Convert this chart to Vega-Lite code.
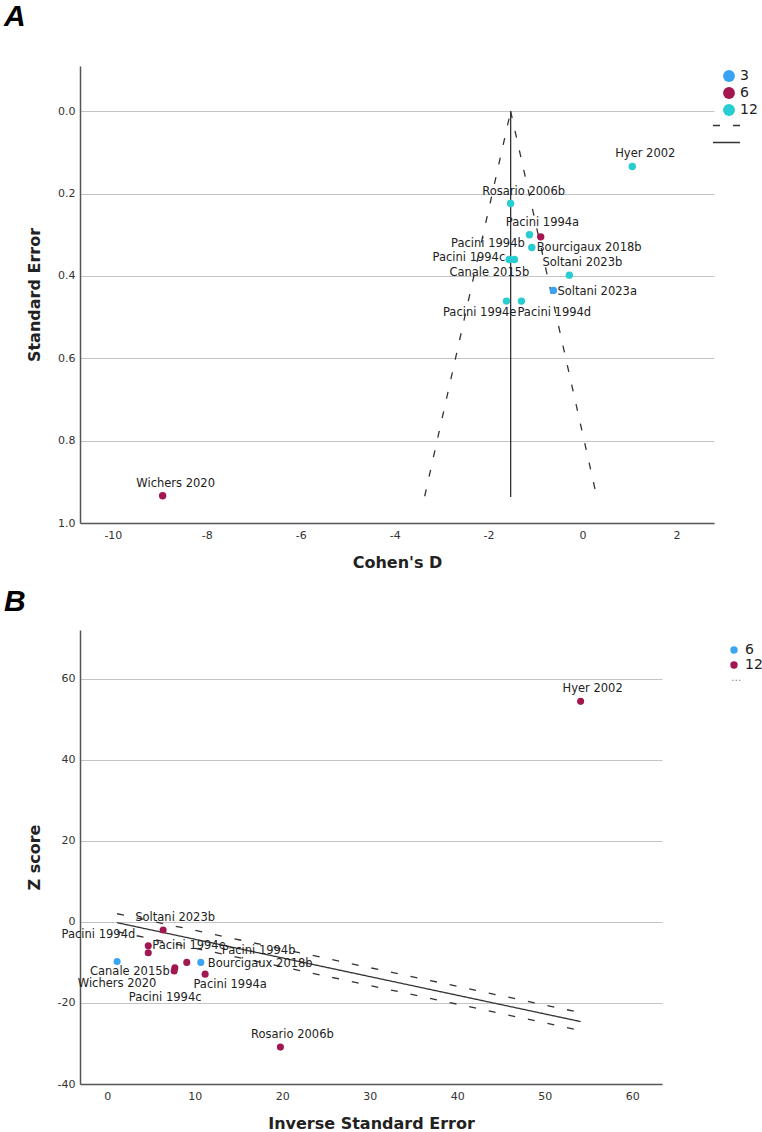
{
  "$schema": "https://vega.github.io/schema/vega-lite/v6.json",
  "background": "white",
  "padding": {"left": 4, "top": 2, "right": 0, "bottom": 0},
  "spacing": 17,
  "config": {
    "font": "DejaVu Sans",
    "view": {"stroke": null},
    "axis": {
      "labelFont": "DejaVu Sans", "labelFontSize": 11, "labelColor": "#333",
      "titleFont": "DejaVu Sans", "titleFontWeight": "bold", "titleFontSize": 16, "titleColor": "#222",
      "domainColor": "#555", "domainWidth": 1.5, "ticks": false,
      "gridColor": "#c4c4c4", "gridWidth": 1.2,
      "labelExpr": "replace(datum.label, '\u2212', '-')"
    },
    "legend": {"labelFont": "DejaVu Sans", "labelFontSize": 14, "labelColor": "#222", "padding": 0}
  },
  "resolve": {
    "scale": {"color": "independent", "strokeDash": "independent"},
    "legend": {"color": "independent", "strokeDash": "independent"}
  },
  "datasets": {
    "ptsA": [
      {"study": "Hyer 2002", "d": 1.06, "se": 0.134, "k": "12"},
      {"study": "Rosario 2006b", "d": -1.53, "se": 0.224, "k": "12"},
      {"study": "Pacini 1994a", "d": -1.13, "se": 0.300, "k": "12"},
      {"study": "Bourcigaux 2018b", "d": -0.89, "se": 0.305, "k": "6"},
      {"study": "Pacini 1994b", "d": -1.08, "se": 0.331, "k": "12"},
      {"study": "Pacini 1994c", "d": -1.56, "se": 0.360, "k": "12"},
      {"study": "Canale 2015b", "d": -1.45, "se": 0.360, "k": "12"},
      {"study": "Soltani 2023b", "d": -0.28, "se": 0.398, "k": "12"},
      {"study": "Soltani 2023a", "d": -0.62, "se": 0.435, "k": "3"},
      {"study": "Pacini 1994e", "d": -1.62, "se": 0.461, "k": "12"},
      {"study": "Pacini 1994d", "d": -1.30, "se": 0.461, "k": "12"},
      {"study": "Wichers 2020", "d": -8.94, "se": 0.934, "k": "6"}
    ],
    "linesA": [
      {"line": "mid", "style": "solid", "d": -1.53, "se": 0},
      {"line": "mid", "style": "solid", "d": -1.53, "se": 0.937},
      {"line": "lo", "style": "dash", "d": -1.53, "se": 0},
      {"line": "lo", "style": "dash", "d": -3.36, "se": 0.935},
      {"line": "hi", "style": "dash", "d": -1.53, "se": 0},
      {"line": "hi", "style": "dash", "d": 0.30, "se": 0.935}
    ],
    "ptsB": [
      {"study": "Soltani 2023b", "ise": 6.4, "z": -2.0, "k": "12"},
      {"study": "Pacini 1994d", "ise": 4.7, "z": -5.9, "k": "12"},
      {"study": "Pacini 1994e", "ise": 4.7, "z": -7.6, "k": "12"},
      {"study": "Wichers 2020", "ise": 1.14, "z": -9.8, "k": "6"},
      {"study": "Canale 2015b", "ise": 7.74, "z": -11.3, "k": "12"},
      {"study": "Pacini 1994c", "ise": 7.66, "z": -12.1, "k": "12"},
      {"study": "Pacini 1994b", "ise": 9.1, "z": -10.0, "k": "12"},
      {"study": "Bourcigaux 2018b", "ise": 10.7, "z": -10.0, "k": "6"},
      {"study": "Pacini 1994a", "ise": 11.2, "z": -12.9, "k": "12"},
      {"study": "Rosario 2006b", "ise": 19.8, "z": -30.9, "k": "12"},
      {"study": "Hyer 2002", "ise": 54.1, "z": 54.4, "k": "12"}
    ],
    "linesB": [
      {"line": "fit", "style": "solid", "ise": 1.14, "z": -0.2},
      {"line": "fit", "style": "solid", "ise": 54.1, "z": -24.6},
      {"line": "up", "style": "dash", "ise": 1.14, "z": 2.0},
      {"line": "up", "style": "dash", "ise": 54.1, "z": -22.4},
      {"line": "lo", "style": "dash", "ise": 1.14, "z": -2.4},
      {"line": "lo", "style": "dash", "ise": 54.1, "z": -26.8}
    ]
  },
  "vconcat": [
    {
      "width": 634,
      "height": 457,
      "title": {"text": "A", "anchor": "start", "frame": "group", "dx": -76, "offset": 10, "baseline": "alphabetic", "fontSize": 30, "font": "Liberation Sans", "fontStyle": "italic", "fontWeight": "bold", "color": "#000"},
      "layer": [
        {
          "data": {"name": "linesA"},
          "mark": {"type": "line", "color": "#333", "strokeWidth": 1.3},
          "encoding": {
            "x": {"field": "d", "type": "quantitative", "scale": {"domain": [-10.7, 2.8], "nice": false, "zero": false},
                  "axis": {"title": "Cohen's D", "values": [-10, -8, -6, -4, -2, 0, 2], "grid": false, "labelPadding": 6, "titlePadding": 14}},
            "y": {"field": "se", "type": "quantitative", "scale": {"domain": [-0.11, 1.0], "reverse": true, "nice": false, "zero": false},
                  "axis": {"title": "Standard Error", "values": [0, 0.2, 0.4, 0.6, 0.8, 1.0], "format": ".1f", "grid": true, "labelPadding": 5, "titlePadding": 15}},
            "detail": {"field": "line"},
            "strokeDash": {"field": "style", "type": "nominal", "scale": {"domain": ["dash", "solid"], "range": [[7, 13], [1, 0]]},
                           "legend": {"title": null, "orient": "none", "legendX": 632, "legendY": 51, "symbolType": "stroke", "symbolSize": 729, "symbolStrokeColor": "#333", "symbolStrokeWidth": 1.3, "labelExpr": "''", "clipHeight": 17, "rowPadding": 0}}
          }
        },
        {
          "data": {"name": "ptsA"},
          "mark": {"type": "circle", "size": 55, "opacity": 1},
          "encoding": {
            "x": {"field": "d", "type": "quantitative"},
            "y": {"field": "se", "type": "quantitative"},
            "color": {"field": "k", "type": "nominal", "scale": {"domain": ["3", "6", "12"], "range": ["#3aa2f2", "#a3164f", "#27cdd0"]},
                      "legend": {"title": null, "orient": "none", "legendX": 642, "legendY": 3, "symbolType": "circle", "symbolSize": 140, "symbolStrokeWidth": 0, "rowPadding": 3}}
          }
        },
        {
          "data": {"name": "ptsA"},
          "transform": [{"filter": {"field": "study", "oneOf": ["Hyer 2002", "Rosario 2006b", "Pacini 1994a", "Soltani 2023b", "Wichers 2020"]}}],
          "mark": {"type": "text", "align": "center", "baseline": "middle", "dx": 13, "dy": -12, "fontSize": 11.5, "color": "#222"},
          "encoding": {"x": {"field": "d", "type": "quantitative"}, "y": {"field": "se", "type": "quantitative"}, "text": {"field": "study"}}
        },
        {
          "data": {"name": "ptsA"},
          "transform": [{"filter": {"field": "study", "oneOf": ["Soltani 2023a"]}}],
          "mark": {"type": "text", "align": "left", "baseline": "middle", "dx": 4, "dy": 2, "fontSize": 11.5, "color": "#222"},
          "encoding": {"x": {"field": "d", "type": "quantitative"}, "y": {"field": "se", "type": "quantitative"}, "text": {"field": "study"}}
        },
        {
          "data": {"name": "ptsA"},
          "transform": [{"filter": {"field": "study", "oneOf": ["Bourcigaux 2018b"]}}],
          "mark": {"type": "text", "align": "left", "baseline": "middle", "dx": -4, "dy": 11, "fontSize": 11.5, "color": "#222"},
          "encoding": {"x": {"field": "d", "type": "quantitative"}, "y": {"field": "se", "type": "quantitative"}, "text": {"field": "study"}}
        },
        {
          "data": {"name": "ptsA"},
          "transform": [{"filter": {"field": "study", "oneOf": ["Pacini 1994b"]}}],
          "mark": {"type": "text", "align": "right", "baseline": "middle", "dx": -7, "dy": -4, "fontSize": 11.5, "color": "#222"},
          "encoding": {"x": {"field": "d", "type": "quantitative"}, "y": {"field": "se", "type": "quantitative"}, "text": {"field": "study"}}
        },
        {
          "data": {"name": "ptsA"},
          "transform": [{"filter": {"field": "study", "oneOf": ["Pacini 1994c"]}}],
          "mark": {"type": "text", "align": "right", "baseline": "middle", "dx": -4, "dy": -2, "fontSize": 11.5, "color": "#222"},
          "encoding": {"x": {"field": "d", "type": "quantitative"}, "y": {"field": "se", "type": "quantitative"}, "text": {"field": "study"}}
        },
        {
          "data": {"name": "ptsA"},
          "transform": [{"filter": {"field": "study", "oneOf": ["Canale 2015b"]}}],
          "mark": {"type": "text", "align": "center", "baseline": "middle", "dx": -25, "dy": 13, "fontSize": 11.5, "color": "#222"},
          "encoding": {"x": {"field": "d", "type": "quantitative"}, "y": {"field": "se", "type": "quantitative"}, "text": {"field": "study"}}
        },
        {
          "data": {"name": "ptsA"},
          "transform": [{"filter": {"field": "study", "oneOf": ["Pacini 1994e"]}}],
          "mark": {"type": "text", "align": "right", "baseline": "middle", "dx": 10, "dy": 12, "fontSize": 11.5, "color": "#222"},
          "encoding": {"x": {"field": "d", "type": "quantitative"}, "y": {"field": "se", "type": "quantitative"}, "text": {"field": "study"}}
        },
        {
          "data": {"name": "ptsA"},
          "transform": [{"filter": {"field": "study", "oneOf": ["Pacini 1994d"]}}],
          "mark": {"type": "text", "align": "left", "baseline": "middle", "dx": -4, "dy": 12, "fontSize": 11.5, "color": "#222"},
          "encoding": {"x": {"field": "d", "type": "quantitative"}, "y": {"field": "se", "type": "quantitative"}, "text": {"field": "study"}}
        }
      ]
    },
    {
      "width": 582,
      "height": 454,
      "title": {"text": "B", "anchor": "start", "frame": "group", "dx": -76, "offset": -11, "baseline": "alphabetic", "fontSize": 30, "font": "Liberation Sans", "fontStyle": "italic", "fontWeight": "bold", "color": "#000"},
      "layer": [
        {
          "data": {"name": "linesB"},
          "mark": {"type": "line", "color": "#333", "strokeWidth": 1.3},
          "encoding": {
            "x": {"field": "ise", "type": "quantitative", "scale": {"domain": [-3.1, 63.4], "nice": false, "zero": false},
                  "axis": {"title": "Inverse Standard Error", "values": [0, 10, 20, 30, 40, 50, 60], "grid": false, "labelPadding": 6, "titlePadding": 14}},
            "y": {"field": "z", "type": "quantitative", "scale": {"domain": [-40, 72], "nice": false, "zero": false},
                  "axis": {"title": "Z score", "values": [-40, -20, 0, 20, 40, 60], "grid": true, "labelPadding": 5, "titlePadding": 15}},
            "detail": {"field": "line"},
            "strokeDash": {"field": "style", "type": "nominal", "scale": {"domain": ["dash", "solid"], "range": [[7, 13], [1, 0]]},
                           "legend": {"title": null, "orient": "none", "legendX": 640, "legendY": 42, "values": ["dash"], "symbolType": "circle", "symbolSize": 16, "symbolOpacity": 0, "symbolStrokeWidth": 0, "labelOffset": 0, "labelExpr": "'...'", "labelColor": "#888", "labelFontSize": 11}}
          }
        },
        {
          "data": {"name": "ptsB"},
          "mark": {"type": "circle", "size": 50, "opacity": 1},
          "encoding": {
            "x": {"field": "ise", "type": "quantitative"},
            "y": {"field": "z", "type": "quantitative"},
            "color": {"field": "k", "type": "nominal", "scale": {"domain": ["6", "12"], "range": ["#3ba6f0", "#a0184f"]},
                      "legend": {"title": null, "orient": "none", "legendX": 647, "legendY": 13, "symbolType": "circle", "symbolSize": 55, "symbolStrokeWidth": 0, "rowPadding": 1}}
          }
        },
        {
          "data": {"name": "ptsB"},
          "transform": [{"filter": {"field": "study", "oneOf": ["Hyer 2002", "Rosario 2006b", "Soltani 2023b"]}}],
          "mark": {"type": "text", "align": "center", "baseline": "middle", "dx": 12, "dy": -12, "fontSize": 11.5, "color": "#222"},
          "encoding": {"x": {"field": "ise", "type": "quantitative"}, "y": {"field": "z", "type": "quantitative"}, "text": {"field": "study"}}
        },
        {
          "data": {"name": "ptsB"},
          "transform": [{"filter": {"field": "study", "oneOf": ["Pacini 1994d"]}}],
          "mark": {"type": "text", "align": "right", "baseline": "middle", "dx": -13, "dy": -11, "fontSize": 11.5, "color": "#222"},
          "encoding": {"x": {"field": "ise", "type": "quantitative"}, "y": {"field": "z", "type": "quantitative"}, "text": {"field": "study"}}
        },
        {
          "data": {"name": "ptsB"},
          "transform": [{"filter": {"field": "study", "oneOf": ["Pacini 1994e"]}}],
          "mark": {"type": "text", "align": "left", "baseline": "middle", "dx": 4, "dy": -7, "fontSize": 11.5, "color": "#222"},
          "encoding": {"x": {"field": "ise", "type": "quantitative"}, "y": {"field": "z", "type": "quantitative"}, "text": {"field": "study"}}
        },
        {
          "data": {"name": "ptsB"},
          "transform": [{"filter": {"field": "study", "oneOf": ["Wichers 2020"]}}],
          "mark": {"type": "text", "align": "center", "baseline": "middle", "dx": 0, "dy": 22, "fontSize": 11.5, "color": "#222"},
          "encoding": {"x": {"field": "ise", "type": "quantitative"}, "y": {"field": "z", "type": "quantitative"}, "text": {"field": "study"}}
        },
        {
          "data": {"name": "ptsB"},
          "transform": [{"filter": {"field": "study", "oneOf": ["Canale 2015b"]}}],
          "mark": {"type": "text", "align": "right", "baseline": "middle", "dx": -5, "dy": 4, "fontSize": 11.5, "color": "#222"},
          "encoding": {"x": {"field": "ise", "type": "quantitative"}, "y": {"field": "z", "type": "quantitative"}, "text": {"field": "study"}}
        },
        {
          "data": {"name": "ptsB"},
          "transform": [{"filter": {"field": "study", "oneOf": ["Pacini 1994c"]}}],
          "mark": {"type": "text", "align": "center", "baseline": "middle", "dx": -9, "dy": 27, "fontSize": 11.5, "color": "#222"},
          "encoding": {"x": {"field": "ise", "type": "quantitative"}, "y": {"field": "z", "type": "quantitative"}, "text": {"field": "study"}}
        },
        {
          "data": {"name": "ptsB"},
          "transform": [{"filter": {"field": "study", "oneOf": ["Pacini 1994b"]}}],
          "mark": {"type": "text", "align": "left", "baseline": "middle", "dx": 35, "dy": -11, "fontSize": 11.5, "color": "#222"},
          "encoding": {"x": {"field": "ise", "type": "quantitative"}, "y": {"field": "z", "type": "quantitative"}, "text": {"field": "study"}}
        },
        {
          "data": {"name": "ptsB"},
          "transform": [{"filter": {"field": "study", "oneOf": ["Bourcigaux 2018b"]}}],
          "mark": {"type": "text", "align": "left", "baseline": "middle", "dx": 7, "dy": 2, "fontSize": 11.5, "color": "#222"},
          "encoding": {"x": {"field": "ise", "type": "quantitative"}, "y": {"field": "z", "type": "quantitative"}, "text": {"field": "study"}}
        },
        {
          "data": {"name": "ptsB"},
          "transform": [{"filter": {"field": "study", "oneOf": ["Pacini 1994a"]}}],
          "mark": {"type": "text", "align": "center", "baseline": "middle", "dx": 25, "dy": 11, "fontSize": 11.5, "color": "#222"},
          "encoding": {"x": {"field": "ise", "type": "quantitative"}, "y": {"field": "z", "type": "quantitative"}, "text": {"field": "study"}}
        }
      ]
    }
  ]
}
